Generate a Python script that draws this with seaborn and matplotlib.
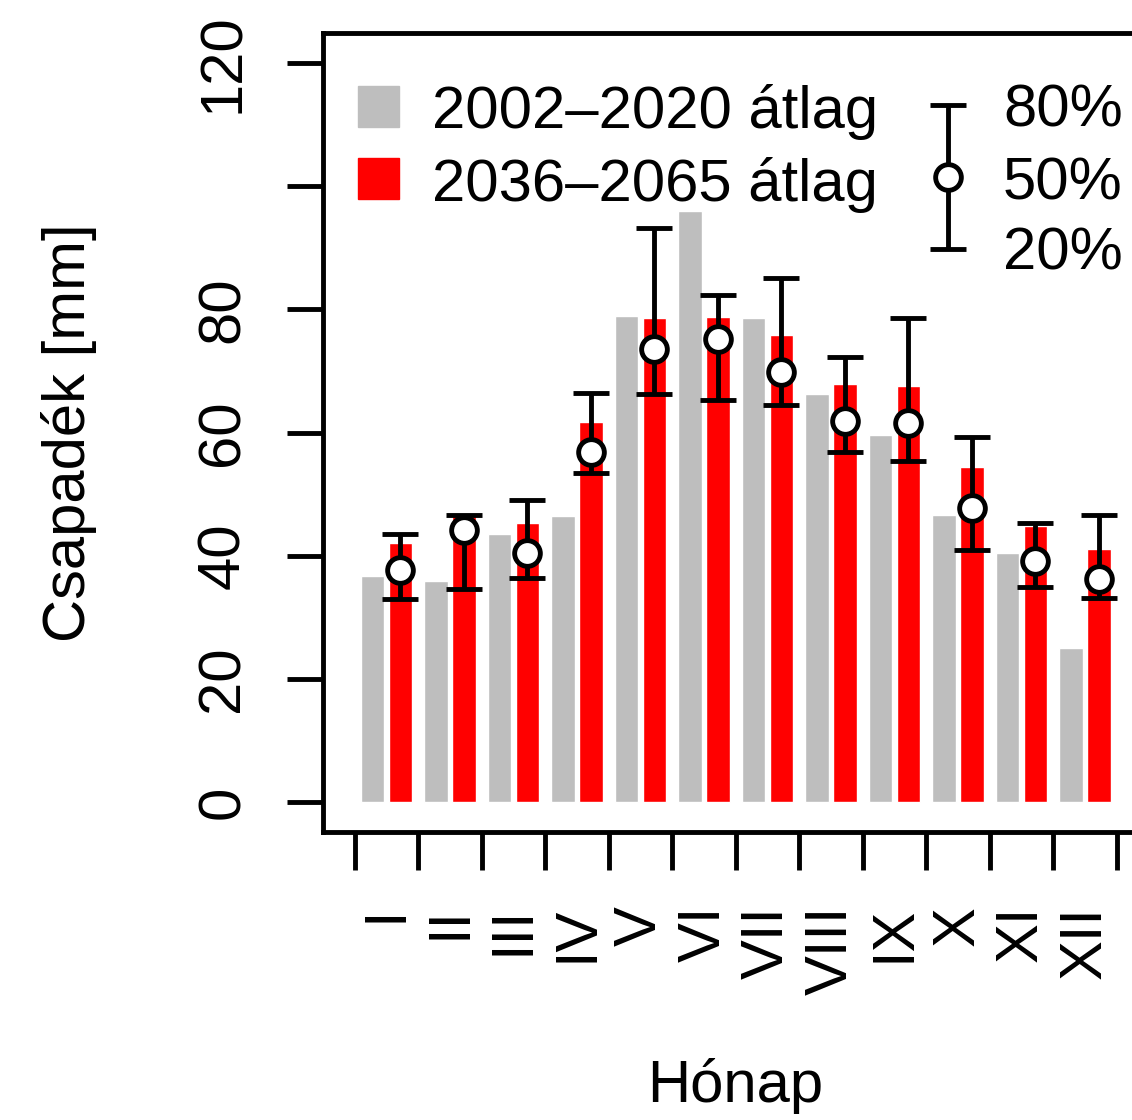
import matplotlib
matplotlib.use('Agg')
import matplotlib.pyplot as plt
from matplotlib.patches import Rectangle
import numpy as np
import pandas as pd
import seaborn as sns

# Monthly precipitation data
months = ['I', 'II', 'III', 'IV', 'V', 'VI', 'VII', 'VIII', 'IX', 'X', 'XI', 'XII']
ref_mean = [36.7, 36.0, 43.5, 46.4, 78.9, 95.9, 78.6, 66.3, 59.6, 46.6, 40.4, 25.0]
fut_mean = [42.1, 46.5, 45.3, 61.7, 78.6, 78.7, 75.8, 67.8, 67.5, 54.4, 44.9, 41.1]
p20 = [33.0, 34.6, 36.4, 53.5, 66.2, 65.3, 64.5, 56.9, 55.4, 41.0, 34.9, 33.2]
p50 = [37.7, 44.2, 40.5, 56.9, 73.6, 75.1, 69.8, 61.9, 61.6, 47.7, 39.1, 36.2]
p80 = [43.6, 46.7, 49.1, 66.4, 93.1, 82.3, 85.1, 72.2, 78.6, 59.3, 45.4, 46.6]

periods = ['2002–2020 átlag', '2036–2065 átlag']
colors = ['#BEBEBE', '#FF0000']
pct_labels = ['80%', '50%', '20%']
yticks = [0, 20, 40, 60, 80, 100, 120]
ytick_labels = ['0', '20', '40', '60', '80', '', '120']  # 100 is dropped in the original

df = pd.DataFrame({
    'month': months * 2,
    'period': [periods[0]] * 12 + [periods[1]] * 12,
    'value': ref_mean + fut_mean,
})

sns.set_style('white')
plt.rcParams['font.family'] = ['Liberation Sans', 'DejaVu Sans']
plt.rcParams.update({'text.color': 'black', 'axes.labelcolor': 'black',
                     'xtick.color': 'black', 'ytick.color': 'black'})
FS = 43
LW = 3.5

fig = plt.figure(figsize=(11.32, 11.2), dpi=100)
ax = fig.add_axes([0.2853, 0.2571, 0.7292, 0.7134])

sns.barplot(data=df, x='month', y='value', hue='period', order=months,
            hue_order=periods, palette=colors, saturation=1, width=0.88,
            gap=0.15, errorbar=None, legend=False, ax=ax)

# percentile error bars on the future bars
xpos = np.arange(len(months)) + 0.22
p20a, p50a, p80a = np.array(p20), np.array(p50), np.array(p80)
eb = dict(fmt='o', color='black', mfc='white', mec='black', ms=18.5, mew=LW,
          elinewidth=LW, capsize=13.3, capthick=LW)
ax.errorbar(xpos, p50a, yerr=[p50a - p20a, p80a - p50a], zorder=5, **eb)

ax.set_xlim(-1, 12)
ax.set_ylim(-4.8, 124.8)

# axis ticks
ax.set_xticks(np.arange(13) - 0.5, labels=[''] * 13)
ax.set_xticks(np.arange(12), labels=months, minor=True)
ax.tick_params(axis='x', which='major', direction='out', length=27, width=LW,
               bottom=True)
ax.tick_params(axis='x', which='minor', length=0, pad=53, labelsize=FS,
               labelrotation=90, bottom=True)
ax.set_yticks(yticks, labels=ytick_labels)
ax.tick_params(axis='y', direction='out', length=26, width=LW, pad=26,
               labelsize=FS, labelrotation=90, left=True)
for lab in ax.get_yticklabels():
    lab.set_va('center')
for lab in ax.get_xticklabels(minor=True):
    lab.set_va('top')

for sp in ax.spines.values():
    sp.set_linewidth(LW)
    sp.set_color('black')

ax.set_xlabel('Hónap', fontsize=FS)
ax.xaxis.set_label_coords(0.5, -0.283)
ax.set_ylabel('Csapadék [mm]', fontsize=FS)
ax.yaxis.set_label_coords(-0.274, 0.5)

# legend for the bars
for col, lab, y0, yb in zip(colors, periods, [0.8823, 0.7922], [0.8811, 0.7897]):
    ax.add_patch(Rectangle((0.0424, y0), 0.0497, 0.0514, transform=ax.transAxes,
                           color=col, clip_on=False))
    ax.text(0.132, yb, lab, transform=ax.transAxes, fontsize=FS, va='baseline',
            ha='left')

# legend for the percentile bar
ax.errorbar([0.757], [0.8198], yerr=[[0.8198 - 0.7296], [0.9099 - 0.8198]],
            transform=ax.transAxes, clip_on=False, **eb)
for lab, yb in zip(pct_labels, [0.8836, 0.7922, 0.7046]):
    ax.text(0.8237, yb, lab, transform=ax.transAxes, fontsize=FS,
            va='baseline', ha='left')

fig.savefig('out.png', dpi=100)
